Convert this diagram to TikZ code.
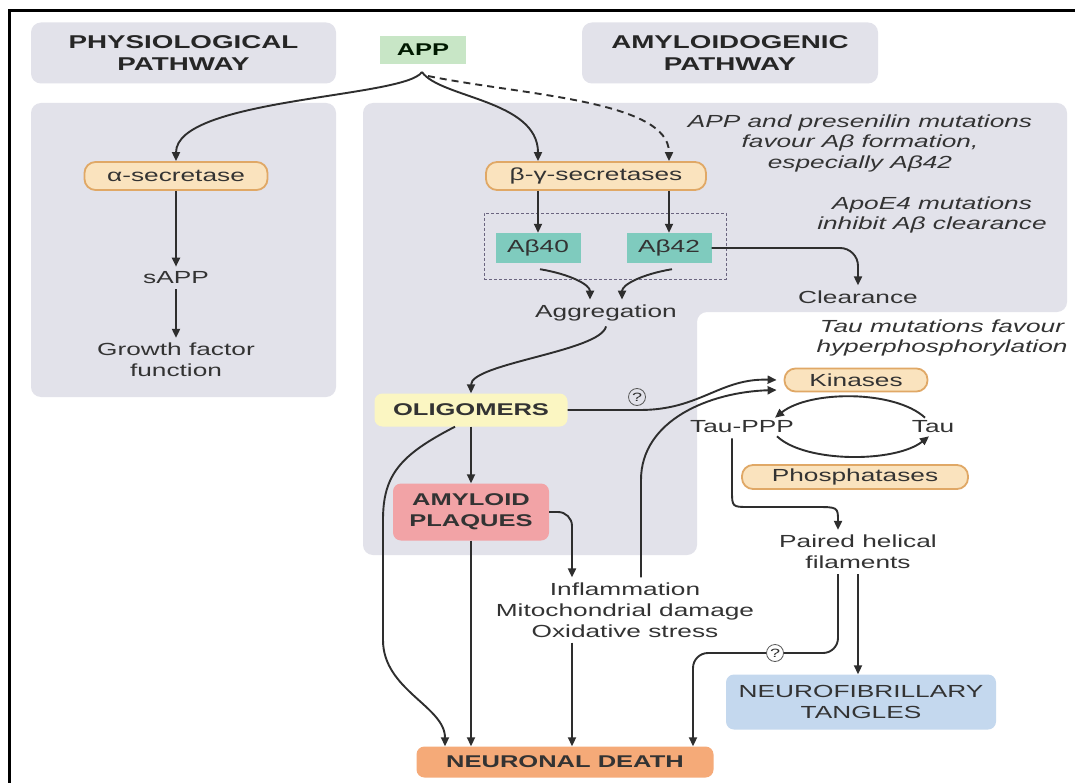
\documentclass[tikz,border=0pt]{standalone}
\usepackage{fontspec}
\setmainfont{Liberation Sans}[FakeStretch=1.5]
\usetikzlibrary{arrows.meta}
\definecolor{panelgray}{HTML}{E2E2EA}
\definecolor{appgreen}{HTML}{C8E6C6}
\definecolor{abteal}{HTML}{7FCBBE}
\definecolor{ovalfill}{HTML}{FAE3BE}
\definecolor{ovaldraw}{HTML}{E0A866}
\definecolor{oligyellow}{HTML}{FBF6C2}
\definecolor{plaqpink}{HTML}{F2A3A6}
\definecolor{nftblue}{HTML}{C4D8EE}
\definecolor{ndorange}{HTML}{F5AA78}
\definecolor{arrowcol}{HTML}{2E2E2E}
\definecolor{textcol}{HTML}{333333}
\definecolor{dashcol}{HTML}{6B6580}
\begin{document}
\begin{tikzpicture}[x=1pt,y=-1pt,
  txt/.style={font=\fontsize{17.5}{21}\selectfont, text=textcol, align=center, inner sep=5pt},
  itl/.style={txt, font=\itshape\fontsize{17.5}{20.5}\selectfont},
  hdr/.style={font=\bfseries\fontsize{18.5}{22}\selectfont, text=black!85, align=center, fill=panelgray, rounded corners=10pt, inner sep=0pt},
  ovalbox/.style={txt, fill=ovalfill, draw=ovaldraw, line width=1.8pt, rounded corners=11pt, inner sep=0pt},
  sqbox/.style={txt, inner sep=0pt},
  capbox/.style={sqbox, rounded corners=8pt, font=\bfseries\fontsize{17}{21}\selectfont},
  arr/.style={draw=arrowcol, line width=1.9pt, -{Triangle[length=9pt,width=8pt]}},
  qmark/.style={circle, draw=arrowcol!80, line width=0.8pt, inner sep=0pt, minimum size=17pt, text=arrowcol, font=\fontsize{12}{12}\selectfont}
]
\useasboundingbox (0,0) rectangle (1075,783);
\fill[white] (0,0) rectangle (1075,783);
% frame
\draw[line width=3pt, black] (9.5,783) -- (9.5,11) -- (1075,11);
% panels
\fill[panelgray, rounded corners=10pt] (31,103) rectangle (336,397);
\fill[panelgray, rounded corners=10pt] (363,103) -- (1067,103) -- (1067,312) -- (697,312) -- (697,555) -- (363,555) -- cycle;

% headers
\node[hdr, minimum width=305pt, minimum height=61pt] (physh) at (183.5,53) {PHYSIOLOGICAL\\PATHWAY};
\node[hdr, minimum width=296pt, minimum height=61pt] (amylh) at (730,53) {AMYLOIDOGENIC\\PATHWAY};
\node[sqbox, fill=appgreen, minimum width=86pt, minimum height=28pt, font=\bfseries\fontsize{17}{21}\selectfont, text=black!75!green!40!black] (app) at (423,50) {APP};

% physiological
\node[ovalbox, minimum width=183pt, minimum height=28pt] (alpha) at (176,176) {α-secretase};
\node[txt] (sapp) at (176,278) {sAPP};
\node[txt] (growth) at (176,360) {Growth factor\\function};

% amyloidogenic
\node[ovalbox, minimum width=220pt, minimum height=28pt] (beta) at (596,176) {β-γ-secretases};
\node[draw=dashcol, dash pattern=on 3pt off 2pt, line width=0.8pt, minimum width=242pt, minimum height=66pt, inner sep=0pt] (abbox) at (605,246) {};
\node[sqbox, fill=abteal, minimum width=85pt, minimum height=30pt] (ab40) at (538,248) {Aβ40};
\node[sqbox, fill=abteal, minimum width=85pt, minimum height=30pt] (ab42) at (669,248) {Aβ42};
\node[txt] (clear) at (858,297) {Clearance};
\node[txt] (agg) at (606,313) {Aggregation};
\node[capbox, fill=oligyellow, minimum width=193pt, minimum height=33pt] (olig) at (471,410) {OLIGOMERS};
\node[capbox, fill=plaqpink, minimum width=156pt, minimum height=57pt] (plaq) at (471,512) {AMYLOID\\PLAQUES};
\node[txt] (infl) at (625,610) {Inflammation\\Mitochondrial damage\\Oxidative stress};
\node[capbox, fill=ndorange, minimum width=297pt, minimum height=31pt] (nd) at (565,762) {NEURONAL DEATH};

% tau
\node[ovalbox, minimum width=143pt, minimum height=23pt] (kin) at (856,380) {Kinases};
\node[txt] (taup) at (742,427) {Tau-PPP};
\node[txt] (tau) at (933,427) {Tau};
\node[ovalbox, minimum width=226pt, minimum height=24pt] (phos) at (855,477) {Phosphatases};
\node[txt] (phf) at (858,552) {Paired helical\\filaments};
\node[sqbox, fill=nftblue, rounded corners=8pt, minimum width=270pt, minimum height=55pt] (nft) at (861,702) {NEUROFIBRILLARY\\TANGLES};

% italic notes
\node[itl] (it1) at (860,143) {APP and presenilin mutations\\favour Aβ formation,\\especially Aβ42};
\node[itl] (it2) at (932,215) {ApoE4 mutations\\inhibit Aβ clearance};
\node[itl] (it3) at (942,338) {Tau mutations favour\\hyperphosphorylation};

% connectors
\coordinate (apex) at (422,72);
\coordinate (apex2) at (428,76);
\draw[arr] (apex) .. controls (405,98) and (176,98) .. (alpha.north);
\draw[arr] (apex) .. controls (440,98) and (538,100) .. (beta.north -| ab40.north);
\draw[arr, dash pattern=on 7pt off 5pt] (apex2) .. controls (520,95) and (669,100) .. (beta.north -| ab42.north);

\draw[arr] (alpha.south) -- (sapp.north);
\draw[arr] (sapp.south) -- (growth.north);

\draw[arr] (beta.south -| ab40.north) -- (ab40.north);
\draw[arr] (beta.south -| ab42.north) -- (ab42.north);
\draw[arr, rounded corners=18pt] (ab42.east) -| (clear.north);
\draw[arr] ([xshift=2pt,yshift=-6pt]ab40.south) .. controls +(30,5) and +(0,-15) .. ([xshift=-16pt]agg.north);
\draw[arr] ([xshift=3pt,yshift=-6pt]ab42.south) .. controls +(-30,5) and +(0,-15) .. ([xshift=16pt]agg.north);
\draw[arr] (agg.south) .. controls +(-5,25) and +(0,-30) .. (olig.north);

\draw[arr] (olig.south) -- (plaq.north);
\draw[arr] (plaq.south) -- (plaq.south |- nd.north);
\draw[arr] ([xshift=-16pt]olig.south) .. controls (400,455) and (383,475) .. (383,520) -- (383,640) .. controls (383,690) and ([xshift=-120pt,yshift=40pt]nd.north) .. ([xshift=-120pt]nd.north);
\draw[arr, rounded corners=14pt] (plaq.east) -| ([xshift=-53pt]infl.north);
\draw[arr] ([xshift=-53pt]infl.south) -- ([xshift=7pt]nd.north);

\draw[arr] (olig.east) -- (640,410) .. controls (700,410) and (720,378) .. ([xshift=-7pt]kin.west);
\draw[arr] ([xshift=16pt]infl.north) -- (641,480) .. controls (641,420) and (710,392) .. ([xshift=-7pt,yshift=-10pt]kin.west);

\draw[arr] ([xshift=-8pt,yshift=-2pt]tau.north) .. controls (895,390) and (810,390) .. ([xshift=33pt,yshift=-2pt]taup.north);
\draw[arr] ([xshift=35pt,yshift=2pt]taup.south) .. controls (805,463) and (895,463) .. ([xshift=-4pt,yshift=2pt]tau.south);

\draw[arr] ([xshift=-10pt]taup.south) -- (732,490) .. controls (732,507) .. (749,507) -- (815,507) .. controls (838,507) .. ([xshift=-20pt]phf.north);
\draw[arr] (phf.south) -- (phf.south |- nft.north);
\coordinate (q2c) at (775,653);
\draw[arr, rounded corners=15pt] ([xshift=-20pt]phf.south) |- (q2c) -| ([xshift=128pt]nd.north);

\node[qmark] (q1) at (637,397) {?};
\node[qmark, fill=white] (q2) at (q2c) {?};
\end{tikzpicture}
\end{document}
